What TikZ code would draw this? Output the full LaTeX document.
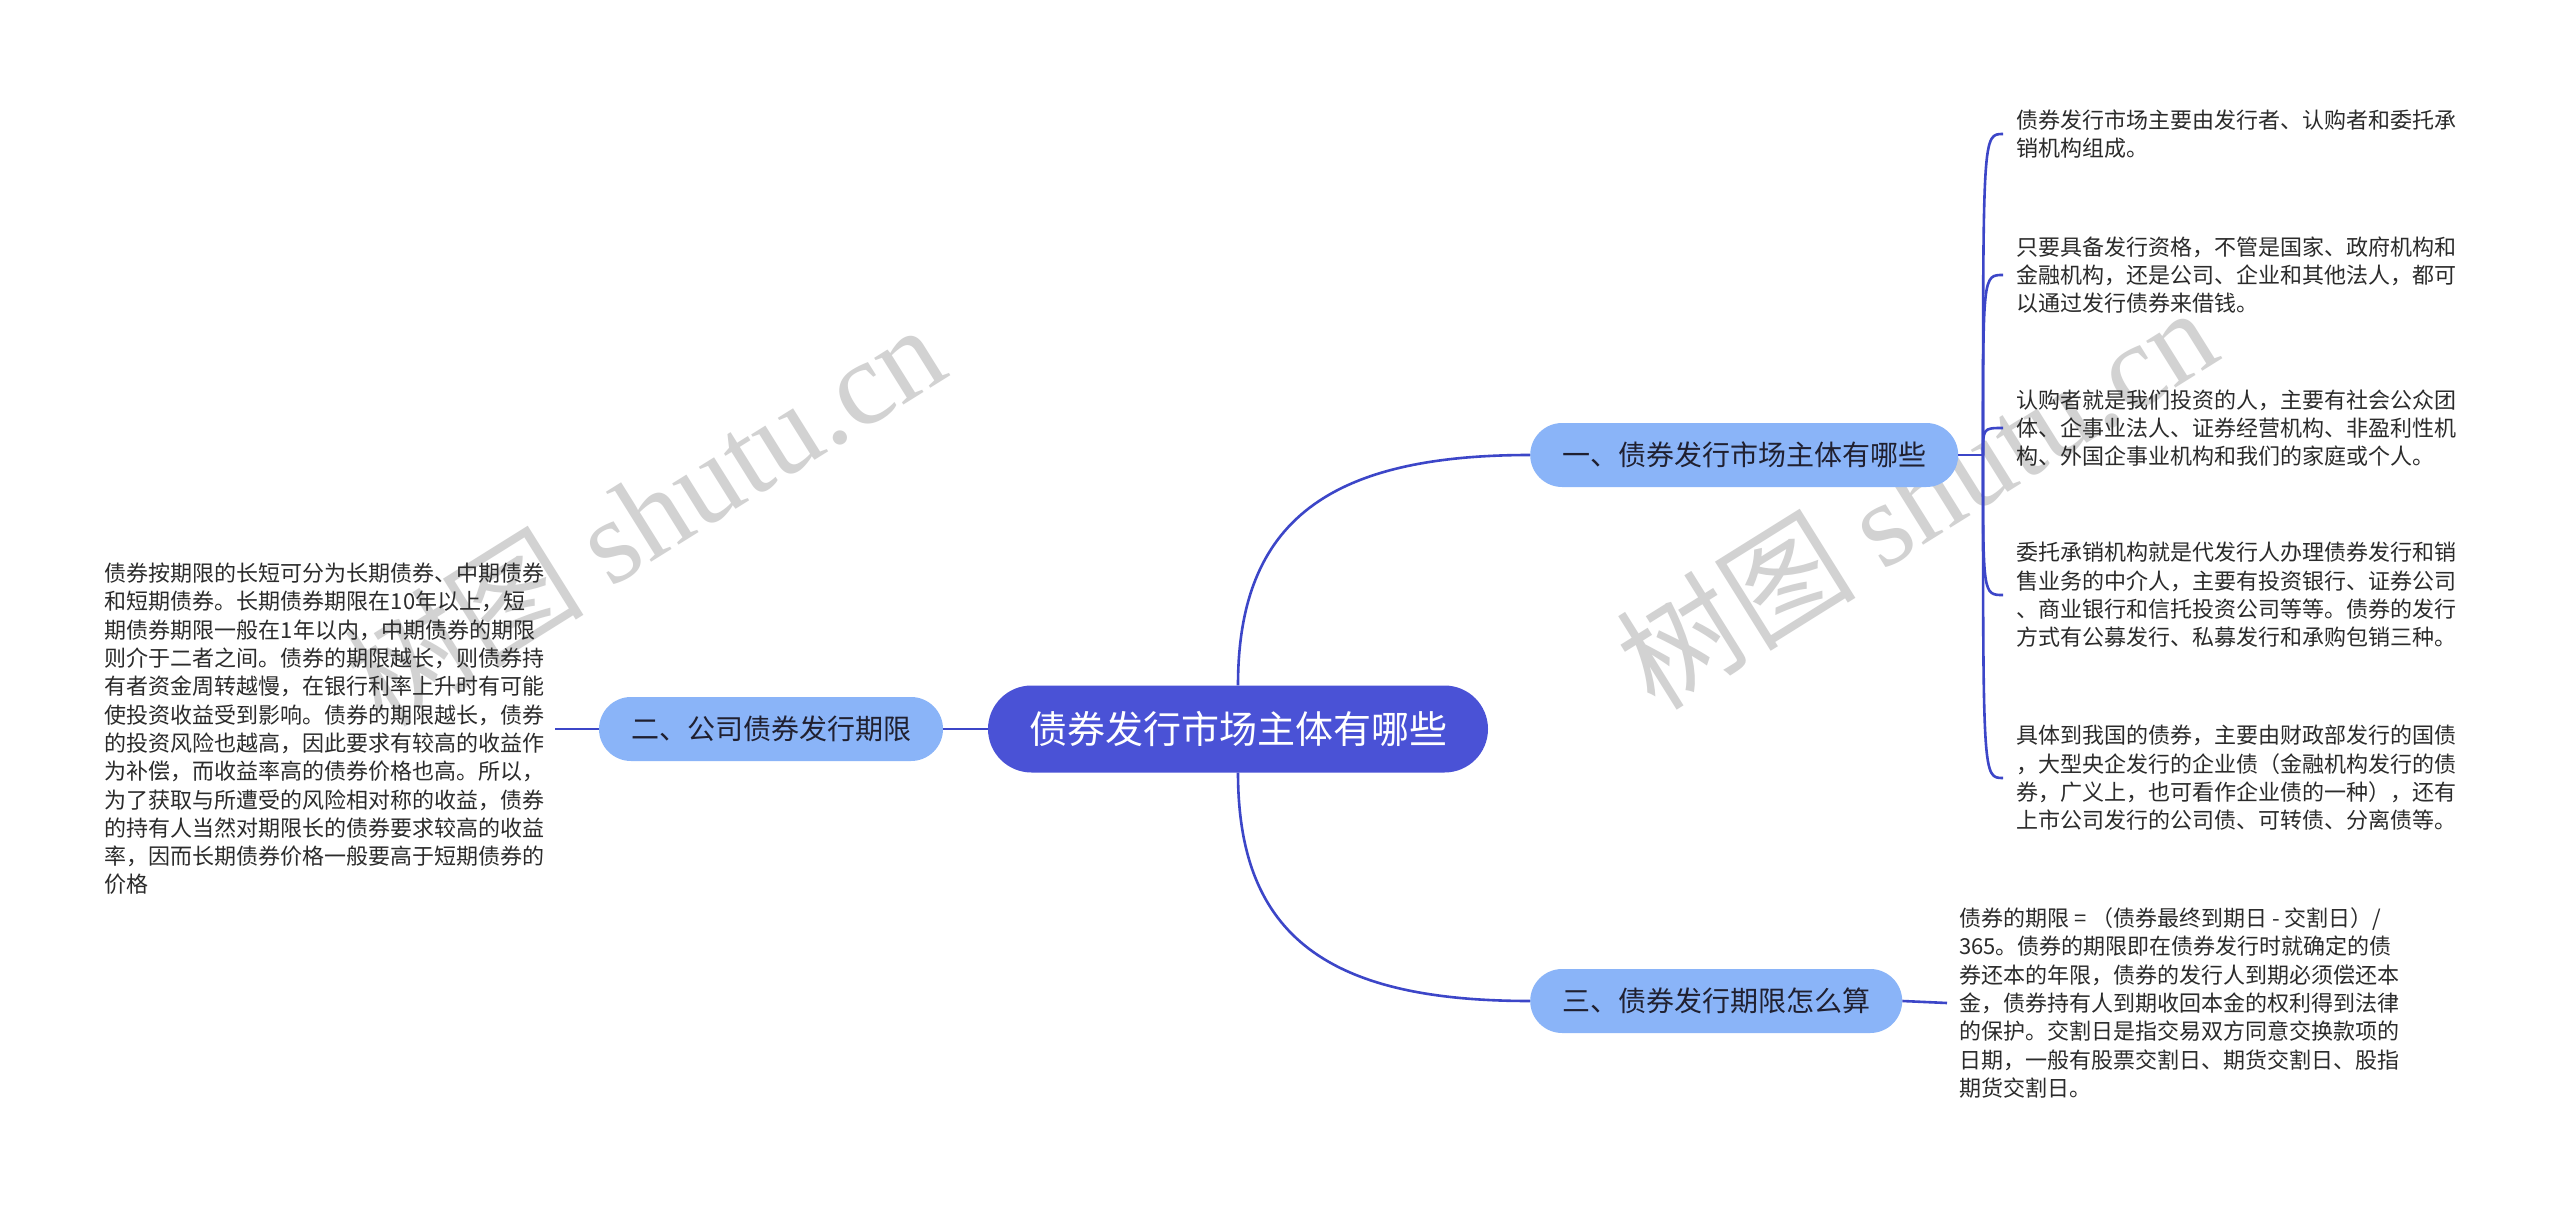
\documentclass[tikz,border=0pt]{standalone}
\usepackage{fontspec}
\setmainfont{Noto Sans CJK SC}
\newfontfamily\wmserif{Liberation Serif}
\definecolor{rootfill}{HTML}{4A52D6}
\definecolor{branchfill}{HTML}{8AB4F8}
\definecolor{edgeblue}{HTML}{3C46C8}
\definecolor{leaftext}{HTML}{2B2B2B}
\definecolor{branchtext}{HTML}{202030}
\definecolor{wmgray}{HTML}{D2D2D2}
\begin{document}
\begin{tikzpicture}[x=1pt,y=-1pt,
  rootnode/.style={fill=rootfill, text=white, rounded corners=43.5pt, minimum height=87pt, minimum width=500pt, inner xsep=0pt, font=\fontsize{38}{46}\selectfont},
  branchnode/.style={fill=branchfill, text=branchtext, rounded corners=32pt, minimum height=64pt, inner xsep=32pt, font=\fontsize{28}{34}\selectfont},
  leafnode/.style={text=leaftext, align=left, inner ysep=0pt, font=\fontsize{22}{28.3}\selectfont},
  link/.style={draw=edgeblue, line width=2.6pt},
  watermark/.style={text=wmgray, rotate=32, anchor=base, inner sep=0pt, font=\fontsize{120}{124}\selectfont}
]
\fill[white] (0,0) rectangle (2560,1206);
\useasboundingbox (0,0) rectangle (2560,1206);

% watermarks
\node[watermark] (wm1) at (668,552) {树图 {\wmserif shutu.cn}};
\node[watermark] (wm2) at (1940,535) {树图 {\wmserif shutu.cn}};

% main nodes
\node[rootnode] (root) at (1238,729) {债券发行市场主体有哪些};
\node[branchnode, anchor=west] (b1) at (1530,455) {一、债券发行市场主体有哪些};
\node[branchnode] (b2) at (771,729) {二、公司债券发行期限};
\node[branchnode, anchor=west] (b3) at (1530,1001) {三、债券发行期限怎么算};

% leaves of branch one
\node[leafnode, anchor=west, inner xsep=13pt] (l11) at (2003,134) {债券发行市场主要由发行者、认购者和委托承\\销机构组成。};
\node[leafnode, anchor=west, inner xsep=13pt] (l12) at (2003,275) {只要具备发行资格，不管是国家、政府机构和\\金融机构，还是公司、企业和其他法人，都可\\以通过发行债券来借钱。};
\node[leafnode, anchor=west, inner xsep=13pt] (l13) at (2003,428) {认购者就是我们投资的人，主要有社会公众团\\体、企事业法人、证券经营机构、非盈利性机\\构、外国企事业机构和我们的家庭或个人。};
\node[leafnode, anchor=west, inner xsep=13pt] (l14) at (2003,595) {委托承销机构就是代发行人办理债券发行和销\\售业务的中介人，主要有投资银行、证券公司\\、商业银行和信托投资公司等等。债券的发行\\方式有公募发行、私募发行和承购包销三种。};
\node[leafnode, anchor=west, inner xsep=13pt] (l15) at (2003,778) {具体到我国的债券，主要由财政部发行的国债\\，大型央企发行的企业债（金融机构发行的债\\券，广义上，也可看作企业债的一种），还有\\上市公司发行的公司债、可转债、分离债等。};

% leaf of branch two
\node[leafnode, anchor=east, inner xsep=10pt] (l2) at (555,729) {债券按期限的长短可分为长期债券、中期债券\\和短期债券。长期债券期限在10年以上，短\\期债券期限一般在1年以内，中期债券的期限\\则介于二者之间。债券的期限越长，则债券持\\有者资金周转越慢，在银行利率上升时有可能\\使投资收益受到影响。债券的期限越长，债券\\的投资风险也越高，因此要求有较高的收益作\\为补偿，而收益率高的债券价格也高。所以，\\为了获取与所遭受的风险相对称的收益，债券\\的持有人当然对期限长的债券要求较高的收益\\率，因而长期债券价格一般要高于短期债券的\\价格};

% leaf of branch three
\node[leafnode, anchor=west, inner xsep=12pt] (l3) at (1947,1003) {债券的期限 = （债券最终到期日 - 交割日）/\\365。债券的期限即在债券发行时就确定的债\\券还本的年限，债券的发行人到期必须偿还本\\金，债券持有人到期收回本金的权利得到法律\\的保护。交割日是指交易双方同意交换款项的\\日期，一般有股票交割日、期货交割日、股指\\期货交割日。};

% connectors
\draw[link] (root.north) .. controls (1238,520) and (1330,455) .. (b1.west);
\draw[link] (root.south) .. controls (1238,938) and (1330,1001) .. (b3.west);
\draw[link] (root.west) -- (b2.east);
\draw[link] (b2.west) -- (l2.east);
\draw[link] (b3.east) -- (l3.west);

\coordinate (j1) at (1983,455);
\draw[link] (b1.east) -- (j1);
\draw[link] (j1) .. controls (1983,134) .. (l11.west);
\draw[link] (j1) .. controls (1983,275) .. (l12.west);
\draw[link] (j1) .. controls (1983,428) .. (l13.west);
\draw[link] (j1) .. controls (1983,595) .. (l14.west);
\draw[link] (j1) .. controls (1983,778) .. (l15.west);
\end{tikzpicture}
\end{document}
